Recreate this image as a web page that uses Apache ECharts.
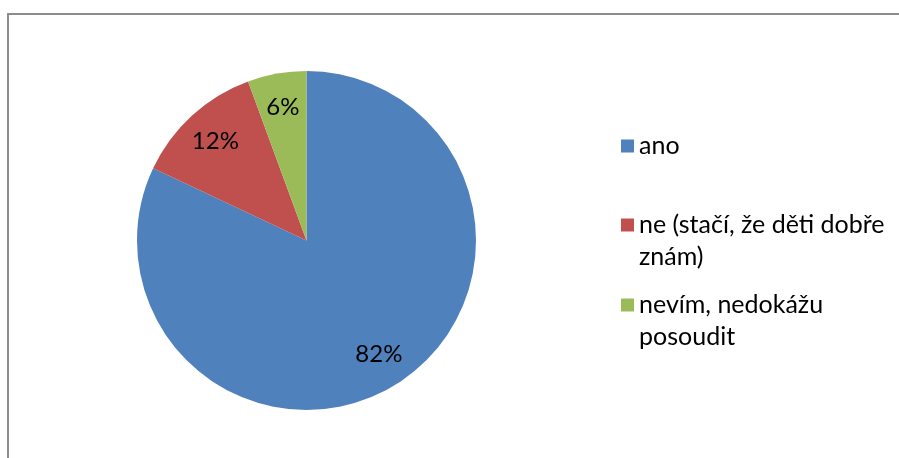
<!DOCTYPE html>
<html>
<head>
<meta charset="utf-8">
<script src="https://cdn.jsdelivr.net/npm/echarts@6/dist/echarts.min.js"></script>
<style>html,body{margin:0;padding:0;background:#fff}#c{width:899px;height:458px}</style>
</head>
<body>
<div id="c"></div>
<script>
const categories = ['ano', 'ne (stačí, že děti dobře znám)', 'nevím, nedokážu posoudit'];
const legendLabels = ['ano', ' \nne (stačí, že děti dobře\nznám)', ' \nnevím, nedokážu\nposoudit'];
const values = [82.0, 12.4, 5.6];
const colors = ['#4F81BD', '#C0504D', '#9BBB59'];

const FONT = 'Lato';
const chart = echarts.init(document.getElementById('c'), null, {renderer: 'canvas'});
const data = categories.map((n, i) => ({name: n, value: values[i], itemStyle: {color: colors[i]}}));
const legendTops = [125, 172, 252];
const legends = categories.map((n, i) => ({
  orient: 'vertical',
  left: 616,
  top: legendTops[i],
  data: [n],
  icon: 'rect',
  itemWidth: 13,
  itemHeight: 13,
  itemGap: 0,
  selectedMode: false,
  formatter: name => legendLabels[categories.indexOf(name)],
  textStyle: {fontFamily: FONT, fontSize: 25, color: '#000', lineHeight: 32}
}));

chart.setOption({
  backgroundColor: '#fff',
  animation: false,
  graphic: [{
    type: 'rect', silent: true,
    shape: {x: 8, y: 14, width: 1000, height: 1000},
    style: {fill: 'none', stroke: '#8c8c8c', lineWidth: 2}
  }],
  legend: legends,
  series: [{
    type: 'pie',
    center: [306.5, 240.5],
    radius: [0, 169.5],
    startAngle: 90,
    clockwise: true,
    label: {show: false},
    labelLine: {show: false},
    emphasis: {disabled: true},
    itemStyle: {borderWidth: 0},
    data: data
  }, {
    type: 'pie',
    silent: true,
    center: [306.5, 240.5],
    radius: [0, 264],
    startAngle: 90,
    clockwise: true,
    avoidLabelOverlap: false,
    itemStyle: {color: 'rgba(0,0,0,0)', borderWidth: 0},
    label: {
      show: true, position: 'inside', color: '#000',
      fontFamily: FONT, fontSize: 24,
      formatter: p => Math.round(p.percent) + '%'
    },
    labelLine: {show: false},
    emphasis: {disabled: true},
    data: categories.map((n, i) => ({name: n, value: values[i]}))
  }]
});
</script>
</body>
</html>
